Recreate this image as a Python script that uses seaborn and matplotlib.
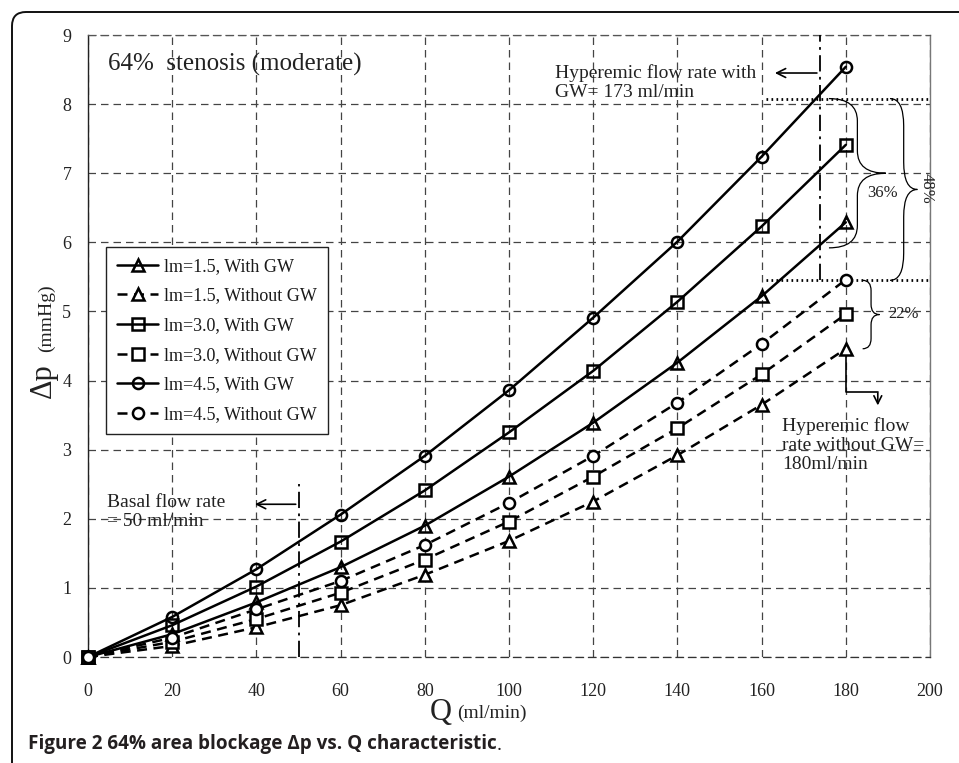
import numpy as np
import pandas as pd
import matplotlib
matplotlib.use("Agg")
import matplotlib.pyplot as plt
import matplotlib.ticker as ticker
from matplotlib.path import Path
from matplotlib.patches import PathPatch, FancyBboxPatch
import seaborn as sns

# ── DATA ──────────────────────────────────────────────────────────────────────

q = [0, 20, 40, 60, 80, 100, 120, 140, 160, 180]

dp_15_gw = [0, 0.33, 0.79, 1.30, 1.90, 2.61, 3.39, 4.26, 5.22, 6.29]
dp_15_no = [0, 0.16, 0.43, 0.75, 1.19, 1.68, 2.25, 2.92, 3.65, 4.46]
dp_30_gw = [0, 0.46, 1.02, 1.67, 2.41, 3.25, 4.14, 5.14, 6.23, 7.41]
dp_30_no = [0, 0.22, 0.55, 0.93, 1.41, 1.96, 2.61, 3.31, 4.09, 4.96]
dp_45_gw = [0, 0.58, 1.27, 2.06, 2.91, 3.86, 4.91, 6.01, 7.24, 8.54]
dp_45_no = [0, 0.28, 0.69, 1.10, 1.62, 2.23, 2.91, 3.68, 4.53, 5.46]

labels = ["lm=1.5, With GW", "lm=1.5, Without GW",
          "lm=3.0, With GW", "lm=3.0, Without GW",
          "lm=4.5, With GW", "lm=4.5, Without GW"]

# annotation levels
basal_q = 50
hyper_gw_q = 173.8
level_top = 8.08      # dotted line above lm=4.5 with GW at Q=173
level_mid = 5.45      # lm=4.5 without GW at 180

# ── SETUP ─────────────────────────────────────────────────────────────────────

sns.set_style("white")
plt.rcParams["font.family"] = ["Liberation Serif", "DejaVu Serif"]
plt.rcParams["text.color"] = "#1a1a1a"

fig = plt.figure(figsize=(9.59, 7.63), dpi=100)
ax = fig.add_axes([88 / 959, 106 / 763, 842 / 959, 622 / 763])

series = [dp_15_gw, dp_15_no, dp_30_gw, dp_30_no, dp_45_gw, dp_45_no]
markers = ["^", "^", "s", "s", "o", "o"]
dashed = (0, (4, 2.6))

for i, (vals, lab) in enumerate(zip(series, labels)):
    with_gw = i % 2 == 0
    sns.lineplot(x=q, y=vals, ax=ax, color="black", lw=1.8,
                 linestyle="-" if with_gw else dashed,
                 marker=markers[i], markersize=8,
                 markerfacecolor="none" if with_gw else "white",
                 markeredgecolor="black", markeredgewidth=1.8,
                 label=lab, zorder=4, clip_on=False)

# ── AXES ──────────────────────────────────────────────────────────────────────

ax.set_xlim(0, 200)
ax.set_ylim(0, 9)
ax.xaxis.set_major_locator(ticker.MultipleLocator(20))
ax.xaxis.set_minor_locator(ticker.MultipleLocator(4))
ax.yaxis.set_major_locator(ticker.MultipleLocator(1))
ax.yaxis.set_minor_locator(ticker.MultipleLocator(0.2))
ax.tick_params(which="both", direction="in", color="#333", width=0.8)
ax.tick_params(which="major", length=5)
ax.tick_params(which="minor", length=3)
ax.tick_params(axis="x", which="major", pad=19, labelsize=13, labelcolor="#222")
ax.tick_params(axis="y", which="major", pad=12, labelsize=13, labelcolor="#222")

grid_ls = (0, (6, 4))
ax.grid(which="major", color="#444", linestyle=grid_ls, lw=0.9, zorder=0)
ax.set_axisbelow(True)
ax.spines["left"].set_color("#222")
ax.spines["left"].set_linewidth(1.0)
ax.spines["bottom"].set_color("#333")
ax.spines["bottom"].set_linestyle(grid_ls)
ax.spines["bottom"].set_linewidth(0.9)
ax.spines["top"].set_color("#555")
ax.spines["top"].set_linestyle(grid_ls)
ax.spines["top"].set_linewidth(0.9)
ax.spines["right"].set_color("#777")
ax.spines["right"].set_linewidth(1.0)
ax.set_xlabel("")
ax.set_ylabel("")

leg = ax.legend(loc="upper left", bbox_to_anchor=(0.0214, 0.659), borderaxespad=0,
                fontsize=13, frameon=True, fancybox=False, framealpha=1,
                edgecolor="#222", handlelength=2.3, handletextpad=0.3,
                labelspacing=0.7, borderpad=0.6, numpoints=1)
leg.get_frame().set_linewidth(1.0)

# ── ANNOTATIONS ───────────────────────────────────────────────────────────────

def brace(x0, x1, y0, y1, lw=0.9):
    # curly brace spanning y0..y1, ends at x0, tip pointing right at x1
    xm = (x0 + x1) / 2
    ym = (y0 + y1) / 2
    h = (y1 - y0) / 2
    verts = [(x0, y1), (xm, y1), (xm, y1 - h * 0.3),
             (xm, ym + h * 0.3),
             (xm, ym), (x1, ym),
             (xm, ym), (xm, ym - h * 0.3),
             (xm, y0 + h * 0.3),
             (xm, y0), (x0, y0)]
    codes = [Path.MOVETO, Path.CURVE3, Path.CURVE3, Path.LINETO,
             Path.CURVE3, Path.CURVE3, Path.CURVE3, Path.CURVE3,
             Path.LINETO, Path.CURVE3, Path.CURVE3]
    ax.add_patch(PathPatch(Path(verts, codes), fill=False, lw=lw,
                           color="black", clip_on=False, zorder=5))

txt = dict(fontsize=14, color="#222")

ax.text(4.75, 8.58, "64%  stenosis (moderate)", fontsize=18, va="center", color="#222")

# hyperemic flow with GW
ax.vlines(hyper_gw_q, level_mid, 9, colors="black", lw=1.3,
          linestyles=(0, (9, 3, 1.5, 3)), zorder=3)
ax.annotate("", xy=(162.5, 8.45), xytext=(hyper_gw_q, 8.45),
            arrowprops=dict(arrowstyle="->", lw=1.2, color="black", mutation_scale=16))
ax.text(110.9, 8.31, "Hyperemic flow rate with\nGW= 173 ml/min", va="center",
        linespacing=1.15, **txt)
ax.hlines([level_top, level_mid], 161, 200, colors="black", lw=2.0,
          linestyles=(0, (0.6, 1.2)), zorder=3)

brace(176, 189.5, 5.92, level_top)
ax.text(188.6, 6.72, "36%", ha="center", va="center", fontsize=12, color="#222")
brace(190.5, 197, level_mid, level_top)
ax.text(199.3, 6.78, "48%", ha="center", va="center", rotation=270, fontsize=12,
        color="#222", clip_on=False)
brace(184, 188, 4.46, level_mid)
ax.text(193.8, 4.96, "22%", ha="center", va="center", fontsize=12, color="#222")

# hyperemic flow without GW
ax.plot([180, 180, 187.6], [4.46, 3.84, 3.84], color="black", lw=1.2, zorder=3)
ax.annotate("", xy=(187.6, 3.6), xytext=(187.6, 3.86),
            arrowprops=dict(arrowstyle="->", lw=1.2, color="black", mutation_scale=14))
ax.text(164.8, 3.07, "Hyperemic flow\nrate without GW=\n180ml/min", va="center",
        linespacing=1.15, **txt)

# basal flow
ax.vlines(basal_q, 0, 2.5, colors="black", lw=1.3,
          linestyles=(0, (9, 3, 1.5, 3)), zorder=3)
ax.annotate("", xy=(39, 2.21), xytext=(basal_q, 2.21),
            arrowprops=dict(arrowstyle="->", lw=1.2, color="black", mutation_scale=16))
ax.text(4.5, 2.1, "Basal flow rate\n= 50 ml/min", va="center", linespacing=1.15, **txt)

# ── AXIS LABELS / CAPTION / BORDER ────────────────────────────────────────────

fig.text(452 / 959, (763 - 720) / 763, "Q", fontsize=22, ha="right", va="baseline", color="#222")
fig.text(457 / 959, (763 - 718) / 763, "(ml/min)", fontsize=14, ha="left", va="baseline", color="#222")
fig.text(51 / 959, (763 - 398) / 763, "Δp", fontsize=22, rotation=90, rotation_mode="anchor",
         ha="left", va="baseline", color="#222")
fig.text(51 / 959, (763 - 352) / 763, "(mmHg)", fontsize=14, rotation=90, rotation_mode="anchor",
         ha="left", va="baseline", color="#222")

cap = fig.text(28 / 959, (763 - 744) / 763, "Figure 2 64% area blockage Δp vs. Q characteristic",
               fontsize=13.6, fontweight="bold", family=["Open Sans", "DejaVu Sans"],
               va="center", color="#231f20")
ax.annotate(".", xy=(1, 0), xycoords=cap, ha="left", va="bottom", fontsize=13.6,
            family=["Open Sans", "DejaVu Sans"], color="#231f20", annotation_clip=False)

fig.patches.append(FancyBboxPatch((0.12, -1.0), 12, 8.51,
                                  boxstyle="round,pad=0,rounding_size=0.14",
                                  transform=fig.dpi_scale_trans, fill=False,
                                  lw=1.4, edgecolor="#111"))

fig.savefig("out.png", dpi=100)
